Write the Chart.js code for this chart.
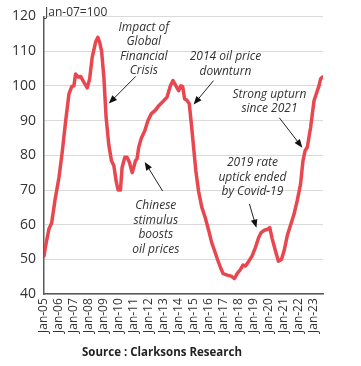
<!DOCTYPE html>
<html>
<head>
<meta charset="utf-8">
<script src="https://cdn.jsdelivr.net/npm/chart.js@4.4.1/dist/chart.umd.min.js"></script>
<style>
  html, body { margin: 0; padding: 0; background: #fff; }
  #wrap { width: 361px; height: 366px; position: relative; }
</style>
</head>
<body>
<div id="wrap"><canvas id="rates-chart"></canvas></div>
<script>
// time in decimal years, index Jan-07 = 100
const monthPos = [
  2005.00, 2005.11, 2005.33, 2005.51, 2005.73, 2006.00, 2006.22, 2006.45, 2006.67, 2006.85,
  2007.00, 2007.11, 2007.29, 2007.45, 2007.67, 2007.89, 2008.05, 2008.22, 2008.45, 2008.60,
  2008.72, 2008.85, 2009.00, 2009.15, 2009.33, 2009.51, 2009.67, 2009.82, 2009.95, 2010.11,
  2010.22, 2010.40, 2010.55, 2010.71, 2010.89, 2011.00, 2011.11, 2011.22, 2011.33, 2011.51,
  2011.73, 2011.95, 2012.18, 2012.45, 2012.67, 2013.00, 2013.22, 2013.45, 2013.62, 2013.82,
  2014.00, 2014.15, 2014.27, 2014.40, 2014.55, 2014.71, 2014.85, 2015.00, 2015.15, 2015.33,
  2015.55, 2015.78, 2016.00, 2016.20, 2016.40, 2016.60, 2016.80, 2016.98, 2017.25, 2017.51,
  2017.73, 2017.91, 2018.13, 2018.31, 2018.47, 2018.69, 2018.91, 2019.13, 2019.35, 2019.51,
  2019.73, 2019.95, 2020.09, 2020.25, 2020.47, 2020.67, 2020.87, 2021.05, 2021.27, 2021.49,
  2021.71, 2021.93, 2022.15, 2022.31, 2022.45, 2022.60, 2022.82, 2023.05, 2023.27, 2023.38,
  2023.49, 2023.60
]
const indexValues = [
  51, 54, 58.8, 60.5, 67, 73.6, 81, 90, 97.7, 99.8,
  100, 103.4, 102.5, 102.7, 101, 99.4, 102, 108.2, 112.6, 114,
  112.5, 110, 102.5, 91, 83, 78.4, 77, 72.6, 70, 70,
  76.5, 79.4, 79.4, 78, 75, 76.5, 78.4, 79, 82.3, 85,
  87, 90, 92, 93, 94.3, 95.7, 96.7, 100, 101.5, 100,
  98.6, 100, 99.8, 96.2, 95.9, 94.8, 89, 82.3, 75.5, 69.7,
  65, 62, 58.5, 55, 52.5, 50, 47.6, 45.9, 45.5, 45.2,
  44.5, 45.9, 47.1, 48.4, 48.1, 49.5, 51, 53.4, 56.3, 57.7,
  58.4, 58.7, 59.2, 56, 52.5, 49.5, 50, 52.5, 57, 60,
  63, 67, 71.7, 78.4, 81.3, 82.3, 88, 95.7, 98.6, 100,
  102, 102.5
]
const tickYears = [2005, 2006, 2007, 2008, 2009, 2010, 2011, 2012, 2013, 2014,
  2015, 2016, 2017, 2018, 2019, 2020, 2021, 2022, 2023]
const tickLabels = ['Jan-05', 'Jan-06', 'Jan-07', 'Jan-08', 'Jan-09', 'Jan-10', 'Jan-11',
  'Jan-12', 'Jan-13', 'Jan-14', 'Jan-15', 'Jan-16', 'Jan-17', 'Jan-18', 'Jan-19',
  'Jan-20', 'Jan-21', 'Jan-22', 'Jan-23']

// notes: text lines, text anchor and arrow (data coords)
const notes = [
  { lines: ['Impact of', 'Global', 'Financial', 'Crisis'], at: [2011.67, 116.8], from: [2011.13, 102.7], to: [2009.33, 94.9] },
  { lines: ['2014 oil price', 'downturn'], at: [2017.13, 108.4], from: [2016.33, 101.5], to: [2015.0, 94.6] },
  { lines: ['Strong upturn', 'since 2021'], at: [2020.07, 97.5], from: [2020.73, 90.8], to: [2022.27, 82.2] },
  { lines: ['2019 rate', 'uptick ended', 'by Covid-19'], at: [2018.93, 77.8], from: [2018.73, 66], to: [2019.2, 59.1] },
  { lines: ['Chinese', 'stimulus', 'boosts', 'oil prices'], at: [2012.47, 65.4], from: [2012.93, 69.7], to: [2011.73, 78.1] }
]

const FONT = "'Open Sans', sans-serif"

const notesPlugin = {
  id: 'notes',
  afterDraw(chart) {
    const { ctx, scales: { x, y }, chartArea } = chart
    ctx.save()
    ctx.fillStyle = '#333'
    ctx.font = `12px ${FONT}`
    ctx.textAlign = 'left'
    ctx.textBaseline = 'middle'
    ctx.fillText('Jan-07=100', chartArea.left + 1, chartArea.top - 4)

    ctx.font = `italic 12px ${FONT}`
    ctx.textAlign = 'center'
    notes.forEach(n => {
      const cx = x.getPixelForValue(n.at[0])
      const cy = y.getPixelForValue(n.at[1])
      n.lines.forEach((t, i) => ctx.fillText(t, cx, cy + i * 14.5))

      const x1 = x.getPixelForValue(n.from[0]), y1 = y.getPixelForValue(n.from[1])
      const x2 = x.getPixelForValue(n.to[0]), y2 = y.getPixelForValue(n.to[1])
      const ang = Math.atan2(y2 - y1, x2 - x1)
      ctx.strokeStyle = '#222'
      ctx.fillStyle = '#111'
      ctx.lineWidth = 1
      ctx.beginPath()
      ctx.moveTo(x1, y1)
      ctx.lineTo(x2 - 6 * Math.cos(ang), y2 - 6 * Math.sin(ang))
      ctx.stroke()
      ctx.beginPath()
      ctx.moveTo(x2, y2)
      ctx.lineTo(x2 - 9 * Math.cos(ang - 0.38), y2 - 9 * Math.sin(ang - 0.38))
      ctx.lineTo(x2 - 9 * Math.cos(ang + 0.38), y2 - 9 * Math.sin(ang + 0.38))
      ctx.closePath()
      ctx.fill()
      ctx.fillStyle = '#333'
    })

    ctx.font = `bold 11.5px ${FONT}`
    ctx.fillStyle = '#222'
    ctx.textAlign = 'center'
    ctx.fillText('Source : Clarksons Research', 162, 353)
    ctx.restore()
  }
}

const ctx = document.getElementById('rates-chart')
new Chart(ctx, {
  type: 'line',
  data: {
    datasets: [{
      data: monthPos.map((t, i) => ({ x: t, y: indexValues[i] })),
      borderColor: '#e8474f',
      borderWidth: 3.5,
      pointRadius: 0,
      tension: 0,
      borderJoinStyle: 'round',
      borderCapStyle: 'round'
    }]
  },
  options: {
    responsive: true,
    maintainAspectRatio: false,
    animation: false,
    layout: { padding: { left: 4, right: 38, top: 10, bottom: 29 } },
    plugins: {
      legend: { display: false },
      tooltip: { enabled: false }
    },
    scales: {
      x: {
        type: 'linear',
        min: 2005,
        max: 2023.65,
        afterBuildTicks: scale => {
          scale.ticks = tickYears.map(v => ({ value: v }))
        },
        ticks: {
          autoSkip: false,
          minRotation: 90,
          maxRotation: 90,
          padding: 4,
          color: '#333',
          font: { family: FONT, size: 12 },
          callback: (v) => tickLabels[tickYears.indexOf(v)]
        },
        grid: { display: false, drawTicks: false },
        border: { display: true, color: '#5a5a5a', width: 1.5 }
      },
      y: {
        min: 40,
        max: 120,
        ticks: {
          stepSize: 10,
          padding: 8,
          color: '#333',
          font: { family: FONT, size: 14 }
        },
        grid: { color: '#d9d9d9', lineWidth: 1, drawTicks: false },
        border: { display: true, color: '#5a5a5a', width: 1.5 }
      }
    }
  },
  plugins: [notesPlugin]
})
</script>
</body>
</html>
